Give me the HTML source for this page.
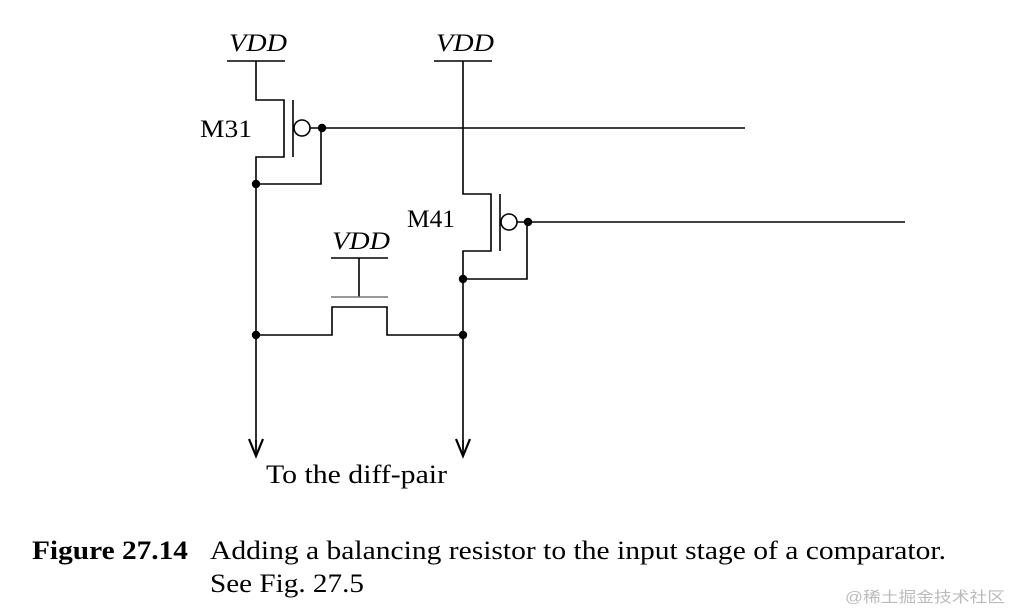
<!DOCTYPE html>
<html><head><meta charset="utf-8"><style>
html,body{margin:0;padding:0;background:#fff;}
svg{display:block;}
.s{font-family:"Liberation Serif","Times New Roman",serif;}
.c{font-family:"Liberation Sans","Noto Sans CJK SC",sans-serif;}
</style></head><body>
<svg width="1011" height="613" viewBox="0 0 1011 613" xmlns="http://www.w3.org/2000/svg">
<g fill="none" stroke="#000" stroke-width="1.6">
<line x1="227" y1="61" x2="285" y2="61"/>
<polyline points="256,61 256,100 284,100 284,157 256,157 256,450"/>
<line x1="293" y1="100" x2="293" y2="157"/>
<circle cx="302" cy="128" r="8"/>
<line x1="310" y1="128" x2="745" y2="128"/>
<polyline points="321,128 321,184 256,184"/>
<line x1="434" y1="61" x2="492" y2="61"/>
<polyline points="463,61 463,194 491,194 491,251 463,251 463,450"/>
<line x1="500" y1="194" x2="500" y2="251"/>
<circle cx="509" cy="222" r="8"/>
<line x1="517" y1="222" x2="905" y2="222"/>
<polyline points="527,222 527,279 463,279"/>
<line x1="331" y1="258" x2="388" y2="258"/>
<line x1="359" y1="258" x2="359" y2="297"/>
<line x1="331" y1="297" x2="388" y2="297" stroke="#777"/>
<polyline points="256,335 332,335 332,307 387,307 387,335 463,335"/>
<polyline points="249,439 256,456 263,439" stroke-width="2.2"/>
<polyline points="456,439 463,456 470,439" stroke-width="2.2"/>
<line x1="256" y1="440" x2="256" y2="455"/>
<line x1="463" y1="440" x2="463" y2="455"/>
</g>
<g fill="#000">
<circle cx="322" cy="128" r="4.2"/>
<circle cx="256" cy="184" r="4.2"/>
<circle cx="528" cy="222" r="4.2"/>
<circle cx="463" cy="279" r="4.2"/>
<circle cx="256" cy="335" r="4.2"/>
<circle cx="463" cy="335" r="4.2"/>
</g>
<g class="s" fill="#000">
<text x="229" y="51" font-size="25" font-style="italic" textLength="58" lengthAdjust="spacingAndGlyphs">VDD</text>
<text x="436" y="51" font-size="25" font-style="italic" textLength="58" lengthAdjust="spacingAndGlyphs">VDD</text>
<text x="332" y="249" font-size="25" font-style="italic" textLength="58" lengthAdjust="spacingAndGlyphs">VDD</text>
<text x="200" y="137" font-size="25" textLength="52" lengthAdjust="spacingAndGlyphs">M31</text>
<text x="407" y="227" font-size="25" textLength="48" lengthAdjust="spacingAndGlyphs">M41</text>
<text x="266" y="483" font-size="26" textLength="181" lengthAdjust="spacingAndGlyphs">To the diff-pair</text>
<text x="32" y="559" font-size="26" font-weight="bold" textLength="156" lengthAdjust="spacingAndGlyphs">Figure 27.14</text>
<text x="210" y="559" font-size="26" textLength="736" lengthAdjust="spacingAndGlyphs">Adding a balancing resistor to the input stage of a comparator.</text>
<text x="210" y="592" font-size="26" textLength="154" lengthAdjust="spacingAndGlyphs">See Fig. 27.5</text>
</g>
<text class="c" x="845" y="602" font-size="15" fill="#bbb" textLength="160" lengthAdjust="spacingAndGlyphs">@稀土掘金技术社区</text>
</svg>
</body></html>
